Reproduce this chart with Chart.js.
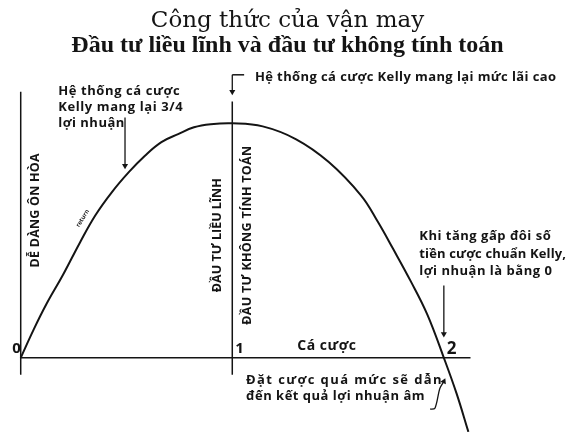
<!DOCTYPE html>
<html>
<head>
<meta charset="utf-8">
<script src="https://cdn.jsdelivr.net/npm/chart.js@4.4.1/dist/chart.umd.min.js"></script>
<style>
  html, body { margin: 0; padding: 0; background: #fff; }
</style>
</head>
<body>
<canvas id="chart" width="575" height="436"></canvas>
<script>
// Đường cong lợi nhuận: trục ngang = mức cược (bội số của Kelly), trục đứng = lợi nhuận tương đối
const betRatio = [0, 0.060, 0.121, 0.200, 0.279, 0.353, 0.433, 0.512, 0.586, 0.665, 0.744, 0.819, 0.898, 1.0,
                  1.144, 1.302, 1.456, 1.609, 1.688, 1.758, 1.842, 1.921, 2.0, 2.060, 2.116];
const profit   = [0, 0.118, 0.228, 0.354, 0.490, 0.608, 0.709, 0.793, 0.861, 0.920, 0.954, 0.983, 0.996, 1.0,
                  0.987, 0.932, 0.835, 0.692, 0.580, 0.468, 0.329, 0.186, 0, -0.152, -0.316];

// Các mốc trên trục cá cược
const tickValues = [0, 1, 2];
const tickLabels = ['0', '1', '2'];

// Các đường phụ (trục, vạch x = 1, mũi tên chú thích)
const xAxisLine   = [[0, 0], [2.126, 0]];
const yAxisLine   = [[0, -0.072], [0, 1.135]];
const kellyLine   = [[1, -0.072], [1, 1.093]];
const topArrow    = [[1, 1.207], [1, 1.135]];
const topDash     = [[1, 1.207], [1.056, 1.207]];
const threeQArrow = [[0.493, 1.025], [0.493, 0.819]];
const doubleArrow = [[2.0, 0.308], [2.0, 0.101]];
const overArrow   = [[1.935, -0.219], [1.958, -0.215], [1.981, -0.131], [2.0, -0.101]];

const INK = '#141414';
const NOTE_FONT = '"Open Sans", "DejaVu Sans", sans-serif';

const toPts = arr => arr.map(p => ({ x: p[0], y: p[1] }));

function plainLine(pts, width) {
  return { data: toPts(pts), borderColor: INK, borderWidth: width || 1.5, pointRadius: 0, tension: 0, fill: false };
}

function arrowLine(pts, rot) {
  const n = pts.length;
  return {
    data: toPts(pts), borderColor: INK, backgroundColor: INK, borderWidth: 1.3, tension: 0.3, fill: false,
    pointStyle: 'triangle',
    pointRadius: pts.map((p, i) => i === n - 1 ? 3.5 : 0),
    pointRotation: rot, pointBorderWidth: 0
  };
}

// Chữ chú thích, đặt theo toạ độ dữ liệu
const notes = [
  { text: 'Hệ thống cá cược Kelly mang lại mức lãi cao', x: 1.107, y: 1.198, size: 13, spacing: 0.4 },
  { text: 'Hệ thống cá cược', x: 0.177, y: 1.135, size: 13, spacing: 0.6 },
  { text: 'Kelly mang lại 3/4', x: 0.177, y: 1.068, size: 13, spacing: 0.6 },
  { text: 'lợi nhuận', x: 0.177, y: 1.0, size: 13, spacing: 0.5 },
  { text: 'Khi tăng gấp đôi số', x: 1.884, y: 0.519, size: 13, spacing: 0.5 },
  { text: 'tiền cược chuẩn Kelly,', x: 1.884, y: 0.443, size: 13, spacing: 0.15 },
  { text: 'lợi nhuận là bằng 0', x: 1.884, y: 0.371, size: 13, spacing: 0.5 },
  { text: 'Đặt cược quá mức sẽ dẫn', x: 1.065, y: -0.097, size: 13, spacing: 1.4 },
  { text: 'đến kết quả lợi nhuận âm', x: 1.065, y: -0.165, size: 13, spacing: 0.5 },
  { text: 'Cá cược', x: 1.447, y: 0.051, size: 14, align: 'center', spacing: 0.5 },
  { text: 'DỄ DÀNG ÔN HÒA', x: 0.07, y: 0.629, size: 12.5, align: 'center', rot: -90, spacing: 0.2 },
  { text: 'ĐẦU TƯ LIỀU LĨNH', x: 0.93, y: 0.523, size: 12.5, align: 'center', rot: -90 },
  { text: 'ĐẦU TƯ KHÔNG TÍNH TOÁN', x: 1.074, y: 0.523, size: 12.5, align: 'center', rot: -90, spacing: 0.3 },
  { text: 'return', x: 0.293, y: 0.595, size: 6, align: 'center', rot: -58 }
];

const notesPlugin = {
  id: 'notes',
  afterDatasetsDraw(chart) {
    const { ctx, scales } = chart;
    ctx.save();
    ctx.fillStyle = INK;
    ctx.textBaseline = 'middle';
    notes.forEach(n => {
      ctx.save();
      ctx.translate(scales.x.getPixelForValue(n.x), scales.y.getPixelForValue(n.y));
      if (n.rot) ctx.rotate(n.rot * Math.PI / 180);
      ctx.font = `bold ${n.size}px ${NOTE_FONT}`;
      ctx.letterSpacing = (n.spacing || 0) + 'px';
      ctx.textAlign = n.align || 'left';
      ctx.fillText(n.text, 0, 0);
      ctx.restore();
    });
    // nhãn 0, 1, 2 trên trục cá cược
    tickValues.forEach((v, i) => {
      ctx.font = `bold ${i === 2 ? 17 : 15}px ${NOTE_FONT}`;
      ctx.textAlign = i === 0 ? 'right' : 'left';
      const px = scales.x.getPixelForValue(v) + (i === 0 ? 0 : 3);
      ctx.fillText(tickLabels[i], px, scales.y.getPixelForValue(0) - 9);
    });
    ctx.restore();
  }
};

new Chart(document.getElementById('chart'), {
  type: 'line',
  data: {
    datasets: [
      {
        data: betRatio.map((b, i) => ({ x: b, y: profit[i] })),
        borderColor: INK, borderWidth: 2, pointRadius: 0, fill: false, tension: 0.4
      },
      plainLine(xAxisLine, 1.5),
      plainLine(yAxisLine, 1.5),
      plainLine(kellyLine, 1.5),
      plainLine(topDash, 1.5),
      arrowLine(topArrow, 180),
      arrowLine(threeQArrow, 180),
      arrowLine(doubleArrow, 180),
      arrowLine(overArrow, 25)
    ]
  },
  options: {
    responsive: false,
    animation: false,
    layout: { padding: 0 },
    scales: {
      x: { type: 'linear', display: false, min: -0.079, max: 2.601 },
      y: { type: 'linear', display: false, min: -0.3165, max: 1.2616 }
    },
    plugins: {
      legend: { display: false },
      tooltip: { enabled: false },
      title: {
        display: true,
        text: 'Công thức của vận may',
        color: INK,
        font: { family: '"DejaVu Serif", serif', size: 23, weight: 'normal', lineHeight: 1 },
        padding: { top: 10, bottom: 1 }
      },
      subtitle: {
        display: true,
        text: 'Đầu tư liều lĩnh và đầu tư không tính toán',
        color: INK,
        font: { family: '"Liberation Serif", serif', size: 24, weight: 'bold', lineHeight: 1 },
        padding: { top: 0, bottom: 4 }
      }
    }
  },
  plugins: [notesPlugin]
});
</script>
</body>
</html>
